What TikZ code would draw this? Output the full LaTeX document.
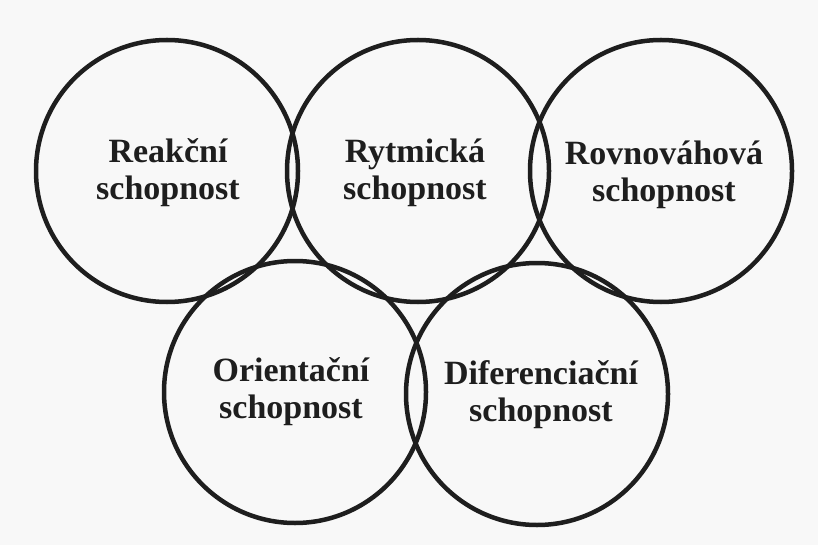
\documentclass[tikz,border=0pt]{standalone}
\usepackage{fontspec}
\setmainfont{Liberation Serif}
\definecolor{inkc}{HTML}{1E1E1E}
\definecolor{paperc}{HTML}{F8F8F8}
\tikzset{
  ring/.style={circle, draw=inkc, line width=4.5pt, minimum size=262pt, inner sep=0pt},
  ringtext/.style={align=center, text=inkc, inner sep=0pt,
    font=\fontsize{34}{37}\selectfont\bfseries}
}
\begin{document}
\begin{tikzpicture}[x=1pt,y=-1pt]
\fill[paperc] (0,0) rectangle (818,545);
\useasboundingbox (0,0) rectangle (818,545);
\node[ring] (reak) at (167,171) {};
\node[ring] (rytm) at (418,171) {};
\node[ring] (rovn) at (661,171) {};
\node[ring] (orie) at (295,392) {};
\node[ring] (dife) at (537,394) {};
\node[ringtext] (treak) at (168,173) {Reakční\\schopnost};
\node[ringtext] (trytm) at (415,173) {Rytmická\\schopnost};
\node[ringtext] (trovn) at (664,175) {Rovnováhová\\schopnost};
\node[ringtext] (torie) at (291,392) {Orientační\\schopnost};
\node[ringtext] (tdife) at (541,395) {Diferenciační\\schopnost};
\end{tikzpicture}
\end{document}
